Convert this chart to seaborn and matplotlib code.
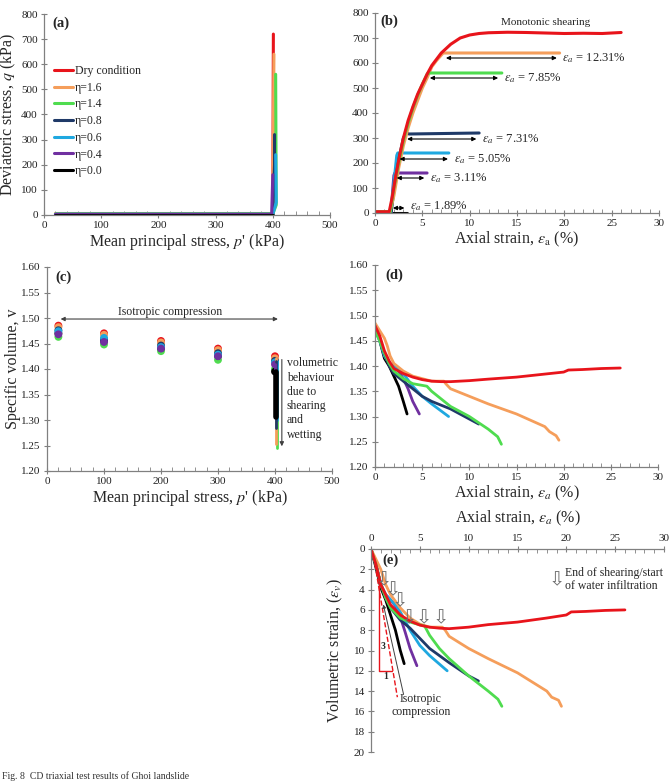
import matplotlib
matplotlib.use('Agg')
import numpy as np
import pandas as pd
import matplotlib.pyplot as plt
import seaborn as sns
from matplotlib.ticker import MultipleLocator, FormatStrFormatter

# series names and colours
names = ['Dry condition', 'η=1.6', 'η=1.4', 'η=0.8', 'η=0.6', 'η=0.4', 'η=0.0']
colors = ['#e8141b', '#f59e5b', '#4fdc4f', '#1f3a68', '#1fa8e0', '#7030a0', '#000000']

# (a) stress path p' - q
a_p = [[20, 400, 401], [20, 400, 402], [20, 400, 406, 405], [20, 400, 403, 403],
       [20, 400, 406, 405], [20, 398, 400], [20, 400]]
a_q = [[4, 4, 720], [6, 6, 640], [4, 4, 40, 560], [3, 3, 200, 320],
       [3, 3, 50, 240], [2, 2, 160], [1, 1]]

# (b) axial strain - q
b_x = [[0, 1.5, 1.8, 2.2, 2.6, 3.0, 3.5, 4.0, 4.5, 5.0, 5.5, 6.0, 7.0, 8.0, 9.0, 10, 11, 12, 14, 16, 18, 20, 22, 24, 26],
       [0, 1.6, 2.0, 2.5, 3.0, 3.5, 4.0, 4.5, 5.0, 5.5, 6.0, 6.5, 7.2, 19.5],
       [0, 1.6, 2.0, 2.5, 3.0, 3.5, 4.0, 4.5, 5.0, 5.5, 5.6, 13.4],
       [0, 1.7, 2.1, 2.6, 3.0, 3.3, 3.6, 11.0],
       [0, 1.7, 2.0, 2.3, 2.4, 7.8],
       [0, 1.7, 1.85, 2.0, 2.1, 5.5],
       [0, 3.4]]
b_q = [[5, 5, 60, 150, 230, 300, 370, 425, 475, 515, 555, 590, 640, 675, 700, 712, 718, 721, 723, 722, 720, 718, 719, 718, 722],
       [5, 5, 70, 180, 270, 340, 400, 450, 500, 540, 585, 610, 640, 640],
       [5, 5, 100, 200, 290, 360, 420, 470, 515, 555, 560, 560],
       [3, 3, 120, 230, 300, 320, 316, 320],
       [3, 3, 120, 230, 240, 240],
       [3, 3, 80, 150, 160, 160],
       [1, 1]]
b_arrow_from = [7.2, 5.5, 3.1, 2.3, 2.0, 1.6]
b_arrow_to = [19.5, 13.3, 11.0, 8.0, 5.5, 3.4]
b_arrow_q = [620, 540, 296, 216, 140, 20]
b_labels = ['12.31%', '7.85%', '7.31%', '5.05%', '3.11%', '1.89%']

# (c) p' - specific volume
c_p = [20, 100, 200, 300, 400]
c_v = [[1.485, 1.470, 1.455, 1.440, 1.425],
       [1.482, 1.467, 1.452, 1.437, 1.421],
       [1.463, 1.448, 1.435, 1.418, 1.400],
       [1.476, 1.458, 1.446, 1.431, 1.416],
       [1.474, 1.461, 1.443, 1.428, 1.413],
       [1.468, 1.453, 1.440, 1.425, 1.409],
       [1.470, 1.455, 1.441, 1.426, 1.395]]
c_shear_p = [400, 401, 404, 402, 403, 400, 401]

# (d) axial strain - specific volume
d_x = [[0, 0.5, 1, 1.5, 2, 3, 4, 5, 6, 7, 8, 10, 12, 15, 18, 20, 20.5, 22, 24, 26],
       [0, 0.5, 1, 1.3, 1.6, 2, 3, 4, 5, 6, 7.3, 7.5, 8, 10, 12, 15, 18, 18.5, 19.2, 19.5],
       [0, 0.5, 1, 1.5, 2, 3, 4, 5.5, 6, 7, 8, 10, 12, 13, 13.4],
       [0, 0.5, 1, 1.5, 2, 3, 4, 5, 6, 8, 10, 11],
       [0, 0.5, 1, 1.5, 2.5, 3, 4, 5, 6, 7.8],
       [0, 0.5, 1, 1.5, 2, 2.5, 3, 3.5, 4, 4.7],
       [0, 0.5, 1, 1.5, 2, 2.5, 3, 3.4]]
d_v = [[1.48, 1.46, 1.43, 1.41, 1.395, 1.385, 1.378, 1.373, 1.370, 1.369, 1.369, 1.371, 1.374, 1.378, 1.384, 1.388, 1.392, 1.393, 1.395, 1.396],
       [1.485, 1.47, 1.455, 1.44, 1.42, 1.405, 1.39, 1.38, 1.375, 1.370, 1.370, 1.365, 1.355, 1.34, 1.325, 1.305, 1.28, 1.27, 1.262, 1.253],
       [1.47, 1.45, 1.425, 1.405, 1.39, 1.375, 1.365, 1.36, 1.35, 1.335, 1.32, 1.30, 1.275, 1.26, 1.245],
       [1.475, 1.455, 1.425, 1.40, 1.385, 1.37, 1.355, 1.34, 1.33, 1.315, 1.295, 1.285],
       [1.47, 1.45, 1.42, 1.405, 1.395, 1.385, 1.36, 1.34, 1.325, 1.30],
       [1.475, 1.455, 1.42, 1.405, 1.40, 1.39, 1.375, 1.355, 1.33, 1.305],
       [1.478, 1.45, 1.415, 1.40, 1.38, 1.36, 1.33, 1.305]]

# (e) axial strain - volumetric strain
e_x = [[0, 0.5, 1, 1.5, 2, 3, 4, 5, 6, 7, 8, 10, 12, 15, 18, 20, 20.5, 22, 24, 26],
       [0, 0.5, 1, 1.5, 2, 3, 4, 5, 6, 7.3, 7.6, 8, 10, 12, 15, 18, 18.5, 19.2, 19.5],
       [0, 0.5, 1, 1.5, 2, 3, 4, 5.5, 6, 7, 8, 10, 12, 13, 13.4],
       [0, 0.5, 1, 1.5, 2, 3, 4, 5, 6, 8, 10, 11],
       [0, 0.5, 1, 1.5, 2.5, 3, 4, 5, 6, 7.8],
       [0, 0.5, 1, 1.5, 2, 2.5, 3, 3.5, 4, 4.7],
       [0, 0.5, 1, 1.5, 2, 2.5, 3, 3.4]]
e_ev = [[0, 1.5, 3.5, 4.5, 5.5, 6.5, 7.1, 7.5, 7.7, 7.8, 7.85, 7.7, 7.45, 7.2, 6.8, 6.5, 6.2, 6.15, 6.05, 6.0],
        [0, 1.0, 2.0, 3.5, 4.5, 5.8, 6.8, 7.4, 7.7, 7.7, 8.0, 8.6, 9.8, 10.8, 12.2, 14.0, 14.6, 14.9, 15.5],
        [0, 1.5, 3.5, 4.8, 5.8, 6.8, 7.2, 7.6, 8.5, 9.8, 10.8, 12.5, 14.0, 14.8, 15.5],
        [0, 1.5, 3.5, 4.8, 5.8, 7.0, 7.8, 8.8, 9.8, 11.2, 12.5, 13.0],
        [0, 1.5, 3.5, 4.5, 5.5, 6.2, 8.0, 9.5, 10.5, 12.0],
        [0, 1.5, 3.5, 4.5, 5.0, 5.6, 6.7, 8.2, 9.8, 11.5],
        [0, 1.8, 3.8, 5.0, 6.5, 8.0, 10.0, 11.3]]
e_mark_x = [1.33, 2.25, 2.97, 3.9, 5.4, 7.2]
e_mark_y = [3.05, 4.0, 5.1, 6.8, 6.8, 6.8]

pal = dict(zip(names, colors))


def long_df(xs, ys):
    rows = []
    for name, x, y in zip(names, xs, ys):
        for xi, yi in zip(x, y):
            rows.append((name, xi, yi))
    return pd.DataFrame(rows, columns=['series', 'x', 'y'])


sns.set_style('ticks')
plt.rcParams['font.family'] = ['Liberation Serif', 'DejaVu Sans']
plt.rcParams['mathtext.fontset'] = 'stix'

fig = plt.figure(figsize=(6.72, 7.81), dpi=100)


def add_ax(l, t, r, b):
    return fig.add_axes([l / 672, 1 - b / 781, (r - l) / 672, (b - t) / 781])


def style(ax, ylab_x, top=False):
    for s in ax.spines.values():
        s.set_color('#808080')
        s.set_linewidth(0.9)
    ax.spines['right'].set_visible(False)
    if top:
        ax.spines['bottom'].set_visible(False)
        ax.xaxis.tick_top()
        ax.xaxis.set_label_position('top')
    else:
        ax.spines['top'].set_visible(False)
    ax.tick_params(axis='both', which='both', labelsize=8, colors='#808080', labelcolor='#222222')
    ax.tick_params(axis='x', which='major', direction='inout', length=5, pad=2)
    ax.tick_params(axis='x', which='minor', direction='in', length=3)
    ax.tick_params(axis='y', which='major', direction='inout', length=5, pad=2)
    ax.xaxis.set_minor_locator(MultipleLocator((ax.get_xticks()[1] - ax.get_xticks()[0]) / 5))
    ax.set_xlabel(ax.get_xlabel(), fontsize=11.5, labelpad=8 if top else 1)
    ax.set_ylabel(ax.get_ylabel(), fontsize=11.5)
    ax.yaxis.set_label_coords(ylab_x, 0.5)


def letter(ax, txt, x, y):
    ax.text(x, y, txt, transform=ax.transAxes, fontsize=10.5, fontweight='bold', va='center', ha='left')


ax_a = add_ax(44, 14, 330, 215)
ax_b = add_ax(375, 13, 659, 213)
ax_c = add_ax(47, 267, 332, 471)
ax_d = add_ax(375, 265, 658, 467)
ax_e = add_ax(371, 549, 664, 752)

# ---- (a)
df_a = long_df(a_p, a_q)
sns.lineplot(data=df_a, x='x', y='y', hue='series', hue_order=names, palette=pal,
             estimator=None, sort=False, lw=2.2, ax=ax_a)
ax_a.set_xlim(0, 500)
ax_a.set_ylim(0, 800)
ax_a.set_xticks(range(0, 501, 100))
ax_a.set_yticks(range(0, 801, 100))
ax_a.set_xlabel("Mean principal stress, $p$' (kPa)")
ax_a.set_ylabel('Deviatoric stress, $q$ (kPa)')
h, l = ax_a.get_legend_handles_labels()
ax_a.legend(h, l, loc='upper left', bbox_to_anchor=(0.02, 0.77), frameon=False, fontsize=8.5,
            handlelength=1.6, handletextpad=0.1, labelspacing=0.4, borderaxespad=0)
style(ax_a, -0.09)
letter(ax_a, '(a)', 0.03, 0.955)

# ---- (b)
order_b = ['η=0.0', 'η=0.4', 'η=0.6', 'η=0.8', 'η=1.6', 'η=1.4', 'Dry condition']
df_b = long_df(b_x, b_q)
sns.lineplot(data=df_b, x='x', y='y', hue='series', hue_order=order_b, palette=pal,
             estimator=None, sort=False, lw=2.2, ax=ax_b, legend=False)
ax_b.set_xlim(0, 30)
ax_b.set_ylim(0, 800)
ax_b.set_xticks(range(0, 31, 5))
ax_b.set_yticks(range(0, 801, 100))
ax_b.set_xlabel(r'Axial strain, $\varepsilon_{\mathrm{a}}$ (%)')
ax_b.set_ylabel('')
for x0, x1, q, lab in zip(b_arrow_from, b_arrow_to, b_arrow_q, b_labels):
    ax_b.annotate('', xy=(x0, q), xytext=(x1, q),
                  arrowprops=dict(arrowstyle='<|-|>', color='black', lw=0.8, mutation_scale=6))
    ax_b.text(x1 + 0.3, q + (8 if lab == '1.89%' else 0), r'$\varepsilon_a$ = ' + lab,
              fontsize=9, va='center', ha='left')
ax_b.text(18.0, 762, 'Monotonic shearing', fontsize=8, ha='center', va='center')
style(ax_b, -0.1)
letter(ax_b, '(b)', 0.02, 0.96)

# ---- (c)
order_c = ['η=1.4', 'η=1.6', 'η=0.6', 'η=0.8', 'η=0.4', 'η=0.0']
for name in order_c:
    i = names.index(name)
    seg = pd.DataFrame({'x': [c_shear_p[i], c_shear_p[i]], 'y': [c_v[i][-1], d_v[i][-1]]})
    sns.lineplot(data=seg, x='x', y='y', color=colors[i], lw=4 if name == 'η=0.0' else 2,
                 estimator=None, sort=False, ax=ax_c)
pts = []
for name in ['η=1.4', 'Dry condition', 'η=1.6', 'η=0.0', 'η=0.8', 'η=0.6', 'η=0.4']:
    i = names.index(name)
    for p, v in zip(c_p, c_v[i]):
        pts.append((name, p, v))
df_c = pd.DataFrame(pts, columns=['series', 'x', 'y'])
sns.scatterplot(data=df_c, x='x', y='y', hue='series', palette=pal, s=32, linewidth=0,
                legend=False, ax=ax_c)
ax_c.set_xlim(0, 500)
ax_c.set_ylim(1.20, 1.60)
ax_c.set_xticks(range(0, 501, 100))
ax_c.set_yticks(np.arange(1.20, 1.601, 0.05))
ax_c.yaxis.set_major_formatter(FormatStrFormatter('%.2f'))
ax_c.set_xlabel("Mean principal stress, $p$' (kPa)")
ax_c.set_ylabel('Specific volume, v')
ax_c.annotate('', xy=(19, 1.498), xytext=(410, 1.498),
              arrowprops=dict(arrowstyle='<|-|>', color='#404040', lw=0.8, mutation_scale=6))
ax_c.text(216, 1.512, 'Isotropic compression', fontsize=8.5, ha='center', va='center')
ax_c.annotate('', xy=(412, 1.243), xytext=(412, 1.424),
              arrowprops=dict(arrowstyle='-|>', color='#404040', lw=0.8, mutation_scale=6))
ax_c.text(421, 1.423, 'volumetric\nbehaviour\ndue to\nshearing\nand\nwetting', fontsize=8.5,
          ha='left', va='top', linespacing=1.25)
style(ax_c, -0.09)
letter(ax_c, '(c)', 0.03, 0.95)

# ---- (d)
df_d = long_df(d_x, d_v)
sns.lineplot(data=df_d, x='x', y='y', hue='series', hue_order=order_b, palette=pal,
             estimator=None, sort=False, lw=2, ax=ax_d, legend=False)
ax_d.set_xlim(0, 30)
ax_d.set_ylim(1.20, 1.60)
ax_d.set_xticks(range(0, 31, 5))
ax_d.set_yticks(np.arange(1.20, 1.601, 0.05))
ax_d.yaxis.set_major_formatter(FormatStrFormatter('%.2f'))
ax_d.set_xlabel(r'Axial strain, $\varepsilon_a$ (%)')
ax_d.set_ylabel('')
style(ax_d, -0.1)
letter(ax_d, '(d)', 0.035, 0.95)

# ---- (e)
df_e = long_df(e_x, e_ev)
sns.lineplot(data=df_e, x='x', y='y', hue='series', hue_order=order_b, palette=pal,
             estimator=None, sort=False, lw=2, ax=ax_e, legend=False)
ax_e.set_xlim(0, 30)
ax_e.set_ylim(20, 0)
ax_e.set_xticks(range(0, 31, 5))
ax_e.set_yticks(range(0, 21, 2))
ax_e.set_xlabel(r'Axial strain, $\varepsilon_a$ (%)')
ax_e.set_ylabel(r'Volumetric strain, ($\varepsilon_v$)')
# slope triangle and isotropic compression line
ax_e.plot([0.8, 0.8, 2.2], [3.3, 12, 12], color='#e8141b', lw=1)
ax_e.plot([0.4, 2.7], [1.5, 14.6], color='#e8141b', lw=1, ls='--')
ax_e.text(1.2, 9.6, '3', fontsize=7, fontweight='bold', ha='center', va='center')
ax_e.text(1.55, 12.6, '1', fontsize=7, fontweight='bold', ha='center', va='center')
ax_e.annotate('', xy=(1.2, 5.2), xytext=(3.4, 14.6),
              arrowprops=dict(arrowstyle='-|>', color='#404040', lw=0.7, mutation_scale=5))
ax_e.text(5.1, 15.4, 'Isotropic\ncompression', fontsize=8.5, ha='center', va='center', linespacing=1.1)
for mx, my in zip(e_mark_x, e_mark_y):
    ax_e.text(mx, my, '⇩', family='DejaVu Sans', fontsize=14, color='#707070', ha='center', va='center')
ax_e.text(19.0, 3.0, '⇩', family='DejaVu Sans', fontsize=14, color='#707070', ha='center', va='center')
ax_e.text(19.9, 3.0, 'End of shearing/start\nof water infiltration', fontsize=8.5,
          ha='left', va='center', linespacing=1.1)
style(ax_e, -0.09, top=True)
letter(ax_e, '(e)', 0.04, 0.945)

fig.text(0.003, 0.006, 'Fig. 8  CD triaxial test results of Ghoi landslide', fontsize=7,
         ha='left', va='center', color='#333333')

fig.savefig('out.png', dpi=100)
